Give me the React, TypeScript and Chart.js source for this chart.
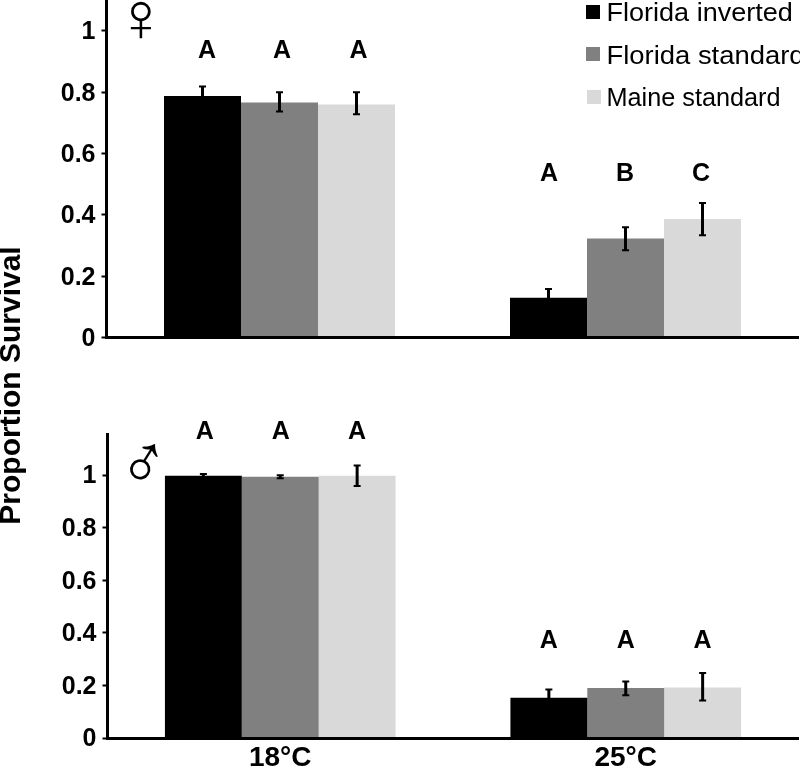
import React, { useEffect, useRef } from "react";
import { Chart, registerables } from "chart.js";

Chart.register(...registerables);

const categories = ["18°C", "25°C"];
const seriesNames = ["Florida inverted", "Florida standard", "Maine standard"];
const seriesColors = ["#000000", "#808080", "#d9d9d9"];
const yTicks = [0, 0.2, 0.4, 0.6, 0.8, 1];

const femaleInverted = [0.788, 0.13];
const femaleStandard = [0.767, 0.323];
const femaleMaine = [0.76, 0.387];
const femaleInvertedErr = [[0.757, 0.819], [0.102, 0.158]];
const femaleStandardErr = [[0.737, 0.8], [0.285, 0.36]];
const femaleMaineErr = [[0.728, 0.8], [0.334, 0.439]];
const femaleLetters = [["A", "A", "A"], ["A", "B", "C"]];
const femaleLetterY = [0.938, 0.535];

const maleInverted = [0.997, 0.153];
const maleStandard = [0.993, 0.19];
const maleMaine = [0.997, 0.192];
const maleInvertedErr = [[0.99, 1.004], [0.122, 0.184]];
const maleStandardErr = [[0.988, 0.999], [0.163, 0.215]];
const maleMaineErr = [[0.958, 1.036], [0.143, 0.247]];
const maleLetters = [["A", "A", "A"], ["A", "A", "A"]];
const maleLetterY = [1.168, 0.373];

const FONT = '"Liberation Sans", Arial, sans-serif';

function panelPlugin(
  errs: number[][][],
  letters: string[][],
  letterY: number[],
  letterShift: number[][],
  extra: (c: any) => void
) {
  return {
    id: "panel",
    afterDraw(chart: any) {
      const c = chart.ctx;
      const y = chart.scales.y;
      c.save();
      c.strokeStyle = "#000";
      c.fillStyle = "#000";
      errs.forEach((serie, i) => {
        const meta = chart.getDatasetMeta(i);
        serie.forEach(([lo, hi], j) => {
          const x = meta.data[j].x;
          const a = y.getPixelForValue(lo);
          const b = y.getPixelForValue(hi);
          c.lineWidth = 3;
          c.beginPath();
          c.moveTo(x, a);
          c.lineTo(x, b);
          c.stroke();
          c.lineWidth = 2;
          c.beginPath();
          c.moveTo(x - 3.5, a);
          c.lineTo(x + 3.5, a);
          c.moveTo(x - 3.5, b);
          c.lineTo(x + 3.5, b);
          c.stroke();
          c.font = `bold 25px ${FONT}`;
          c.textAlign = "center";
          c.textBaseline = "middle";
          c.fillText(letters[j][i], x + letterShift[j][i], y.getPixelForValue(letterY[j]) + 1);
        });
      });
      extra(c);
      c.restore();
    },
  };
}

function drawFemaleExtras(c: any) {
  c.textBaseline = "alphabetic";
  c.textAlign = "center";
  c.font = `70px ${FONT}`;
  c.fillText("♀", 141, 41);

  const legendBase = [20.5, 63.5, 105.5];
  const legendSquareY = [5, 47, 90];
  const legendSquareX = [586, 586, 587];
  const legendStretch = [1.06, 1.075, 0.99];
  seriesNames.forEach((name, i) => {
    c.fillStyle = seriesColors[i];
    c.fillRect(legendSquareX[i], legendSquareY[i], 14, 14);
    c.fillStyle = "#000";
    c.font = `25.5px ${FONT}`;
    c.textAlign = "left";
    c.save();
    c.translate(606.5, legendBase[i]);
    c.scale(legendStretch[i], 1);
    c.fillText(name, 0, 0);
    c.restore();
  });

  c.save();
  c.translate(12, 385.5);
  c.rotate(-Math.PI / 2);
  c.textAlign = "center";
  c.textBaseline = "middle";
  c.font = `bold 30px ${FONT}`;
  c.fillText("Proportion Survival", 0, 0);
  c.restore();
}

function drawMaleExtras(c: any) {
  c.save();
  c.translate(140, 465);
  c.rotate((-13 * Math.PI) / 180);
  c.textBaseline = "alphabetic";
  c.textAlign = "center";
  c.font = `72px ${FONT}`;
  c.fillText("♂", 4.2, 23.3);
  c.restore();
}

function makeConfig(
  series: number[][],
  yMax: number,
  axisWidth: number,
  padding: any,
  xHeight: number,
  showX: boolean,
  plugin: any
) {
  const noPad = (s: any) => {
    s.paddingTop = 0;
    s.paddingBottom = 0;
    s.paddingLeft = 0;
    s.paddingRight = 0;
  };
  return {
    type: "bar",
    data: {
      labels: categories,
      datasets: series.map((data, i) => ({
        label: seriesNames[i],
        data,
        backgroundColor: seriesColors[i],
        borderWidth: 0,
        barPercentage: 1,
        categoryPercentage: 0.6676,
      })),
    },
    options: {
      responsive: false,
      animation: false,
      events: [],
      layout: { padding },
      plugins: { legend: { display: false }, tooltip: { enabled: false } },
      scales: {
        x: {
          grid: { display: false, drawTicks: false },
          border: { display: true, color: "#000", width: 3, z: 1 },
          ticks: {
            display: showX,
            color: "#000",
            padding: 3,
            maxRotation: 0,
            font: { family: FONT, size: 28, weight: "bold" },
          },
          afterFit: (s: any) => {
            s.height = xHeight;
            noPad(s);
          },
        },
        y: {
          min: 0,
          max: yMax,
          afterFit: (s: any) => {
            s.width = axisWidth;
            noPad(s);
          },
          afterBuildTicks: (s: any) => {
            s.ticks = yTicks.map((value) => ({ value }));
          },
          grid: {
            drawOnChartArea: false,
            drawTicks: true,
            tickLength: 5,
            tickWidth: 2,
            tickColor: "#000",
          },
          border: { display: true, color: "#000", width: 3, z: 1 },
          ticks: {
            color: "#000",
            padding: 6,
            labelOffset: 1.5,
            font: { family: FONT, size: 25, weight: "bold" },
            callback: (v: any) => String(Number(Number(v).toFixed(1))),
          },
        },
      },
    },
    plugins: [plugin],
  } as any;
}

export default function App() {
  const topRef = useRef<HTMLCanvasElement>(null);
  const bottomRef = useRef<HTMLCanvasElement>(null);

  useEffect(() => {
    const top = new Chart(
      topRef.current as HTMLCanvasElement,
      makeConfig(
        [femaleInverted, femaleStandard, femaleMaine],
        1.1011,
        106.5,
        { top: 0, left: 0, right: 1.5, bottom: 431.5 },
        0,
        false,
        panelPlugin(
          [femaleInvertedErr, femaleStandardErr, femaleMaineErr],
          femaleLetters,
          femaleLetterY,
          [[4.5, 2.5, 2], [0.5, -0.5, -1.5]],
          drawFemaleExtras
        )
      )
    );
    const bottom = new Chart(
      bottomRef.current as HTMLCanvasElement,
      makeConfig(
        [maleInverted, maleStandard, maleMaine],
        1.156,
        107.5,
        { top: 434, left: 0, right: 1.5, bottom: 0 },
        31,
        true,
        panelPlugin(
          [maleInvertedErr, maleStandardErr, maleMaineErr],
          maleLetters,
          maleLetterY,
          [[1.5, 0.5, 0], [0, 0, 0]],
          drawMaleExtras
        )
      )
    );
    return () => {
      top.destroy();
      bottom.destroy();
    };
  }, []);

  const style: React.CSSProperties = { position: "absolute", left: 0, top: 0, display: "block" };
  return (
    <div style={{ position: "absolute", left: 0, top: 0, width: 800, height: 769, overflow: "hidden", background: "#fff" }}>
      <canvas ref={topRef} width={800} height={769} style={style} />
      <canvas ref={bottomRef} width={800} height={769} style={style} />
    </div>
  );
}
